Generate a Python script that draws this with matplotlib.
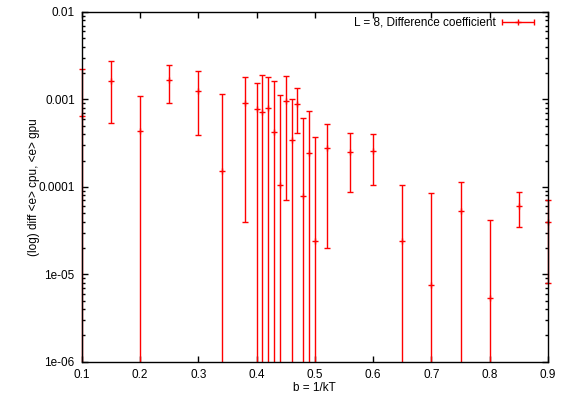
import numpy as np
import matplotlib
matplotlib.use("Agg")
import matplotlib.pyplot as plt
from matplotlib.ticker import LogLocator, NullFormatter
from matplotlib.patches import Rectangle
from matplotlib.legend_handler import HandlerErrorbar

plt.rcParams['font.family'] = ['Liberation Sans', 'DejaVu Sans']

# beta values and mean difference with its (symmetric) error
beta = [0.10, 0.15, 0.20, 0.25, 0.30, 0.34, 0.38, 0.40, 0.41, 0.42, 0.43, 0.44,
        0.45, 0.46, 0.47, 0.48, 0.49, 0.50, 0.52, 0.56, 0.60, 0.65, 0.70, 0.75,
        0.80, 0.85, 0.90]
diff = [6.5e-4, 1.63e-3, 4.3e-4, 1.68e-3, 1.24e-3, 1.52e-4, 9.2e-4, 7.7e-4, 7.1e-4,
        7.9e-4, 4.26e-4, 1.05e-4, 9.6e-4, 3.42e-4, 8.8e-4, 7.8e-5, 2.44e-4, 2.4e-5,
        2.75e-4, 2.51e-4, 2.56e-4, 2.4e-5, 7.5e-6, 5.3e-5, 5.4e-6, 6.1e-5, 3.95e-5]
err = [1.55e-3, 1.09e-3, 6.7e-4, 7.8e-4, 8.5e-4, 1.0e-3, 8.8e-4, 7.8e-4, 1.2e-3,
       1.0e-3, 1.22e-3, 1.03e-3, 8.9e-4, 6.6e-4, 4.7e-4, 5.3e-4, 4.9e-4, 3.5e-4,
       2.55e-4, 1.64e-4, 1.51e-4, 8.2e-5, 7.85e-5, 6.0e-5, 3.6e-5, 2.65e-5, 3.15e-5]

label = 'L = 8, Difference coefficient'
xticks = [0.1, 0.2, 0.3, 0.4, 0.5, 0.6, 0.7, 0.8, 0.9]
yticks = [1e-6, 1e-5, 1e-4, 1e-3, 1e-2]
yticklabels = ['1e-06', '1e-05', '0.0001', '0.001', '0.01']

fig = plt.figure(figsize=(5.61, 4.01), dpi=100)
ax = fig.add_axes([81.7 / 561, 1 - 361.7 / 401, (548 - 81.7) / 561, (361.7 - 12) / 401])

ax.set_yscale('log')
eb = ax.errorbar(beta, diff, yerr=err, fmt='+', color='red', ecolor='red',
                 markersize=5, elinewidth=1, capsize=2.5, capthick=1)

# clip only top/bottom, let the bars at the x limits sit over the frame
clip = Rectangle((-0.03, 0), 1.06, 1, transform=ax.transAxes, fill=False,
                 visible=False)
ax.add_patch(clip)
for art in eb.get_children():
    art.set_clip_path(clip)

# gnuplot style key sample: horizontal bar with caps
proxy = ax.errorbar([np.nan], [np.nan], xerr=[np.nan], fmt='+', color='red',
                    markersize=5, elinewidth=1, capsize=2.5, capthick=1)
ax.legend([proxy], [label], loc='upper right', bbox_to_anchor=(0.991, 1.01),
          frameon=False, markerfirst=False, fontsize=8.5, handlelength=2.9,
          borderaxespad=0.3, handletextpad=0.5,
          handler_map={type(proxy): HandlerErrorbar(xerr_size=1.35)})

ax.set_xlim(0.1, 0.9)
ax.set_ylim(1e-6, 1e-2)
ax.set_xticks(xticks)
ax.set_xticklabels([f'{t:g}' for t in xticks])
ax.set_yticks(yticks)
ax.set_yticklabels(yticklabels)
ax.yaxis.set_minor_locator(LogLocator(base=10, subs=np.arange(2, 10)))
ax.yaxis.set_minor_formatter(NullFormatter())

ax.tick_params(which='both', direction='in', top=True, right=True, labelsize=8.5,
               width=1, pad=5)
ax.tick_params(which='major', length=4)
ax.tick_params(which='minor', length=2)
for s in ax.spines.values():
    s.set_linewidth(1)

ax.set_xlabel('b = 1/kT', fontsize=8.5, labelpad=1)
ax.set_ylabel('(log) diff <e> cpu, <e> gpu', fontsize=8.5, labelpad=-1.5)

fig.savefig('out.png', dpi=100)
